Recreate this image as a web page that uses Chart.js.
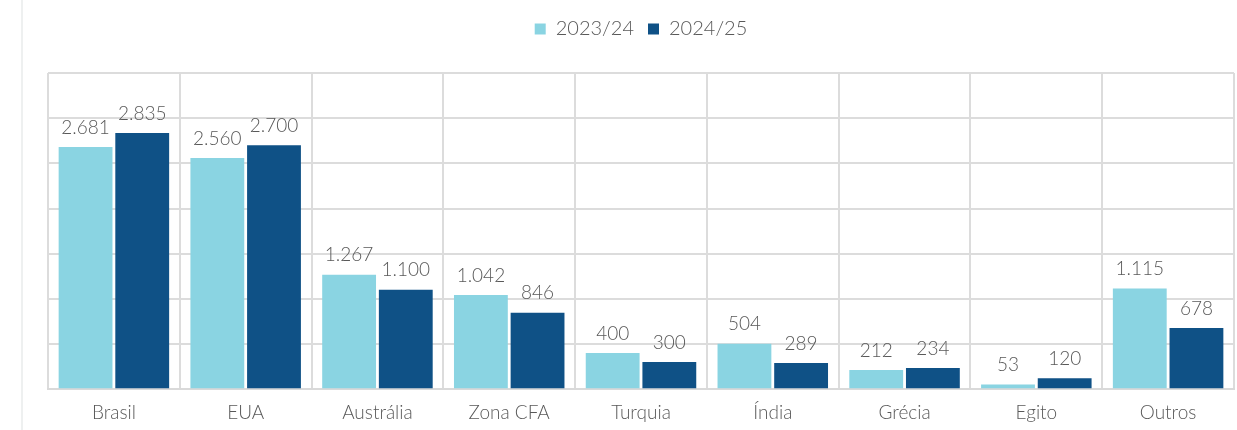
<!DOCTYPE html>
<html>
<head>
<meta charset="utf-8">
<script src="https://cdn.jsdelivr.net/npm/chart.js@4"></script>
<style>
  html, body { margin: 0; padding: 0; background: #fff; }
  #wrap { position: relative; width: 1237px; height: 430px; overflow: hidden; }
  #frame { position: absolute; left: 21px; top: 0; width: 2px; height: 430px; background: #eef0f0; }
  canvas { position: absolute; left: 0; top: 0; }
</style>
</head>
<body>
<div id="wrap">
  <div id="frame"></div>
  <canvas id="myChart" width="1237" height="436"></canvas>
</div>
<script>
const countries = ["Brasil", "EUA", "Austrália", "Zona CFA", "Turquia", "Índia", "Grécia", "Egito", "Outros"];
const season1 = [2681, 2560, 1267, 1042, 400, 504, 212, 53, 1115];
const season2 = [2835, 2700, 1100, 846, 300, 289, 234, 120, 678];
const seasonNames = ["2023/24", "2024/25"];

const ctx = document.getElementById('myChart');

// numbers in portuguese style: 2.681
function fmt(v){
  return v.toLocaleString('pt-BR');
}

const valueLabels = {
  id: 'valueLabels',
  afterDatasetsDraw(chart){
    const c = chart.ctx;
    c.save();
    c.font = '300 19px Lato';
    c.fillStyle = '#595959';
    c.textAlign = 'center';
    c.textBaseline = 'bottom';
    chart.data.datasets.forEach((ds, i) => {
      chart.getDatasetMeta(i).data.forEach((bar, j) => {
        c.fillText(fmt(ds.data[j]), bar.x, bar.y - 10);
      });
    });
    c.restore();
  }
};

// more room under the legend
const legendGap = {
  id: 'legendGap',
  beforeInit(chart){
    const fit = chart.legend.fit;
    chart.legend.fit = function(){
      fit.bind(chart.legend)();
      this.height += 24;
    };
  }
};

new Chart(ctx, {
  type: 'bar',
  data: {
    labels: countries,
    datasets: [{
      label: seasonNames[0],
      data: season1,
      backgroundColor: '#8AD4E2',
      categoryPercentage: 0.86,
      barPercentage: 0.95
    },{
      label: seasonNames[1],
      data: season2,
      backgroundColor: '#0F5186',
      categoryPercentage: 0.86,
      barPercentage: 0.95
    }]
  },
  options: {
    responsive: false,
    animation: false,
    layout: { padding: { left: 48, right: 3, top: 5, bottom: 0 } },
    plugins: {
      legend: {
        position: 'top',
        labels: {
          boxWidth: 11,
          boxHeight: 11,
          padding: 14,
          color: '#595959',
          font: { family: 'Lato', size: 20, weight: 300 }
        }
      },
      tooltip: { enabled: false }
    },
    scales: {
      x: {
        grid: { color: '#dcdcdc', lineWidth: 2, drawTicks: false },
        border: { color: '#d9d9d9', width: 2 },
        ticks: { color: '#595959', font: { family: 'Lato', size: 19, weight: 300 }, padding: 12 }
      },
      y: {
        min: 0,
        max: 3500,
        ticks: { stepSize: 500, display: false },
        grid: { color: '#dcdcdc', lineWidth: 2, drawTicks: false },
        border: { display: false }
      }
    }
  },
  plugins: [valueLabels, legendGap]
});
</script>
</body>
</html>
